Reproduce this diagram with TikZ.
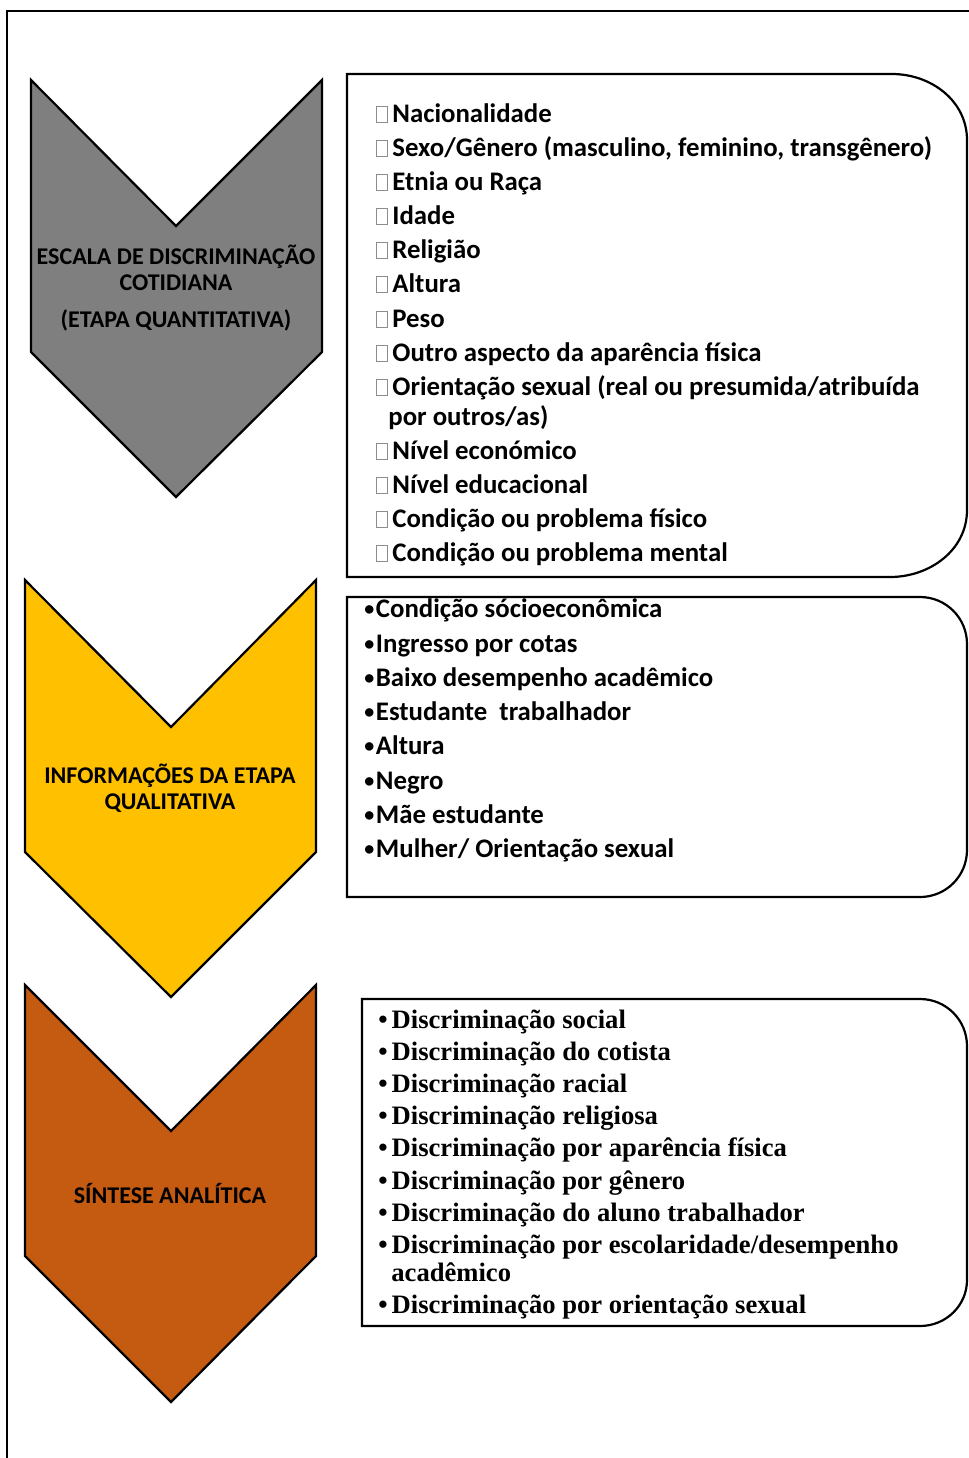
\documentclass[tikz,border=0pt]{standalone}
\usepackage{fontspec}
\setmainfont{Carlito}
\newfontfamily\timesfont{Liberation Serif}

\definecolor{cinza}{HTML}{7F7F7F}
\definecolor{amarelo}{HTML}{FFC000}
\definecolor{laranja}{HTML}{C55A11}
\newcommand{\caixa}{\textcolor{black!45}{\setlength{\fboxsep}{0pt}\setlength{\fboxrule}{0.5pt}\fbox{\rule{0pt}{7.5pt}\hspace{5pt}}}\hspace{2pt}}
\newcommand{\marca}{\raisebox{0.9pt}{\fontsize{10}{10}\selectfont•}\hspace{0.8pt}}
\newcommand{\marcat}{•\hspace{2pt}}

\begin{document}
\begin{tikzpicture}[
        x=0.5pt, y=-0.5pt,
        seta/.style={draw=black, line width=1.1pt, line join=miter},
        lista/.style={draw=black, line width=1.1pt},
        rotulo/.style={font=\bfseries\fontsize{12}{13}\selectfont, align=center, inner sep=0pt},
        itemq/.style={anchor=base west, inner sep=0pt, font=\bfseries\fontsize{13.4}{15}\selectfont},
        itemt/.style={anchor=base west, inner sep=0pt, font=\timesfont\bfseries\fontsize{13.3}{15}\selectfont}
        ]
        \useasboundingbox (0,0) rectangle (969,1458);
        \draw[line width=0.8pt] (7,1480) -- (7,11) -- (990,11);

        % setas
        \draw[seta, fill=cinza] (31,80) -- (176,226) -- (322,80) -- (322,352) -- (176,497) -- (31,352) -- cycle;
        \draw[seta, fill=amarelo] (25,580) -- (171,727) -- (316,580) -- (316,852) -- (171,997) -- (25,852) -- cycle;
        \draw[seta, fill=laranja] (25,985) -- (171,1131) -- (316,985) -- (316,1256) -- (171,1402) -- (25,1256) -- cycle;

        \node[rotulo] (escala) at (176,288) {ESCALA DE DISCRIMINAÇÃO\\COTIDIANA\\[5.5pt](ETAPA QUANTITATIVA)};
        \node[rotulo] (informacoes) at (170,788) {INFORMAÇÕES DA ETAPA\\QUALITATIVA};
        \node[rotulo] (sintese) at (170,1193) {SÍNTESE ANALÍTICA};

        % caixas
        \draw[lista] (347,74) -- (892,74) to[out=0,in=90] (967,140) -- (967,510) to[out=-90,in=0] (890,577) -- (347,577) -- cycle;
        \draw[lista] (347,597) -- (920,597) to[out=0,in=90] (967,644) -- (967,850) to[out=-90,in=0] (920,897) -- (347,897) -- cycle;
        \draw[lista] (362,999) -- (920,999) to[out=0,in=90] (967,1046) -- (967,1280) to[out=-90,in=0] (920,1326) -- (362,1326) -- cycle;

        % etapa quantitativa
        \foreach \x/\y/\t [count=\i] in {376/122/{\caixa Nacionalidade},
                376/156/{\caixa Sexo/Gênero (masculino, feminino, transgênero)},
                376/190/{\caixa Etnia ou Raça}, 376/224/{\caixa Idade},
                376/258/{\caixa Religião}, 376/292/{\caixa Altura},
                376/327/{\caixa Peso}, 376/361/{\caixa Outro aspecto da aparência física},
                376/395/{\caixa Orientação sexual (real ou presumida/atribuída},
                388/425/{por outros/as)}, 376/459/{\caixa Nível económico},
                376/493/{\caixa Nível educacional},
                376/527/{\caixa Condição ou problema físico},
                376/561/{\caixa Condição ou problema mental}}
            \node[itemq] (quant\i) at (\x,\y) {\t};

        % etapa qualitativa
        \foreach \y/\t [count=\i] in {617/{Condição sócioeconômica}, 652/{Ingresso por cotas},
                686/{Baixo desempenho acadêmico}, 720/{Estudante\ \ trabalhador},
                754/{Altura}, 789/{Negro}, 823/{Mãe estudante}, 857/{Mulher/ Orientação sexual}}
            \node[itemq] (qual\i) at (364,\y) {\marca\t};

        % sintese
        \foreach \x/\y/\t [count=\i] in {378/1028/{\marcat Discriminação social},
                378/1060/{\marcat Discriminação do cotista},
                378/1092/{\marcat Discriminação racial},
                378/1124/{\marcat Discriminação religiosa},
                378/1156/{\marcat Discriminação por aparência física},
                378/1189/{\marcat Discriminação por gênero},
                378/1221/{\marcat Discriminação do aluno trabalhador},
                378/1253/{\marcat Discriminação por escolaridade/desempenho},
                391/1281/{acadêmico},
                378/1313/{\marcat Discriminação por orientação sexual}}
            \node[itemt] (sint\i) at (\x,\y) {\t};
    \end{tikzpicture}
\end{document}
